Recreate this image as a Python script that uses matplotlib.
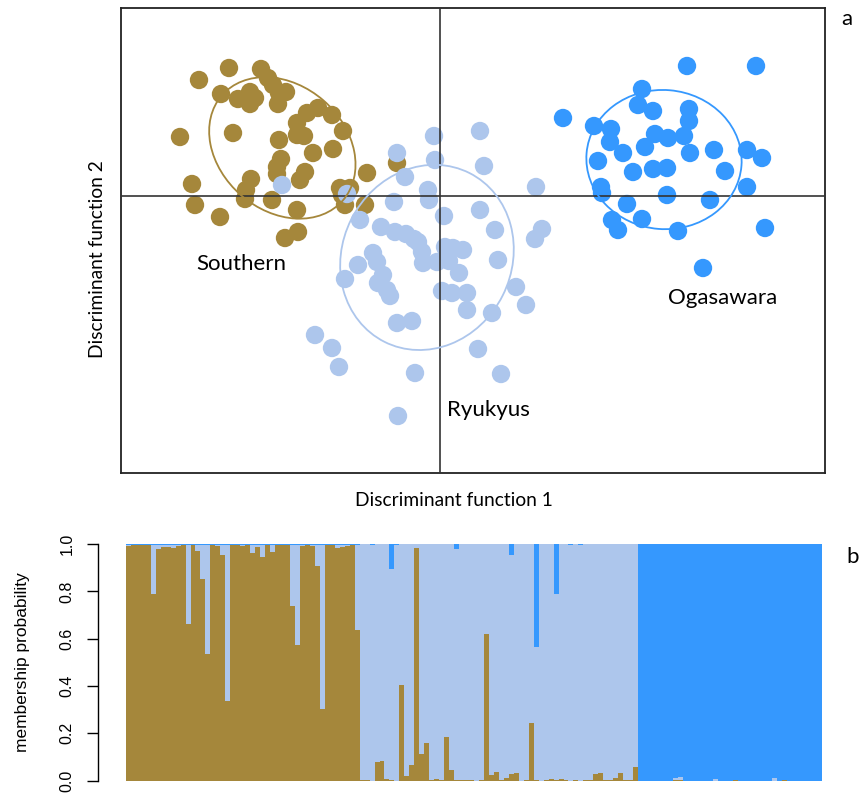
import numpy as np
import matplotlib
matplotlib.use("Agg")
import matplotlib.pyplot as plt
from matplotlib.patches import Ellipse

# ---------------- data: DAPC scores (arbitrary LD units) ----------------
south_ld1 = [-4.82, -4.22, -3.58, -3.44, -3.34, -3.08, -4.38, -4.04, -3.80, -3.80,
             -3.24, -3.22, -5.20, -4.14, -2.86, -2.66, -2.44, -2.16, -1.94, -3.22,
             -2.86, -2.72, -2.54, -2.14, -3.18, -3.26, -3.26, -2.70, -2.80, -3.78,
             -3.88, -3.90, -4.96, -4.90, -4.40, -3.36, -2.86, -1.46, -2.00, -1.80,
             -1.90, -1.50, -0.86, -3.10, -2.84, -1.96, -3.70]
south_ld2 = [2.32, 2.56, 2.54, 2.36, 2.22, 2.08, 2.04, 1.94, 2.08, 1.84,
             1.84, 2.06, 1.18, 1.26, 1.46, 1.66, 1.76, 1.62, 1.30, 1.12,
             1.22, 1.20, 0.86, 0.94, 0.74, 0.58, 0.44, 0.48, 0.32, 0.34,
             0.12, -0.06, 0.24, -0.18, -0.42, -0.08, -0.28, 0.46, 0.16, 0.16,
             -0.18, -0.18, 0.66, -0.84, -0.72, 0.02, 1.96]

ryukyu_ld1 = [-0.12, 0.80, -0.86, -0.10, 0.88, 1.92, -0.70, -0.24, -0.22, -0.92,
              -1.86, 0.08, 0.80, -1.60, -1.18, -0.90, -0.68, -0.44, -0.36, 0.10,
              0.26, 0.46, -0.06, -0.34, 1.10, 2.04, 1.90, 1.16, -1.34, -1.26,
              -1.64, -1.90, 0.38, -1.14, -1.24, -1.00, -1.06, 0.04, 0.24, 0.54,
              0.54, 1.04, 1.52, 1.72, -0.86, -0.56, -2.50, -2.16, -2.02, 0.76,
              -0.50, 1.22, -0.84, -3.16, -0.52, 0.18]
ryukyu_ld2 = [1.20, 1.30, 0.86, 0.72, 0.60, 0.18, 0.38, 0.12, -0.08, -0.12,
              0.04, -0.40, -0.28, -0.48, -0.62, -0.72, -0.76, -0.92, -1.12, -1.02,
              -1.04, -1.08, -1.32, -1.34, -0.68, -0.66, -0.86, -1.28, -1.14, -1.32,
              -1.38, -1.66, -1.54, -1.58, -1.74, -2.00, -1.88, -1.90, -1.94, -1.94,
              -2.28, -2.34, -1.82, -2.18, -2.54, -2.50, -2.78, -3.04, -3.42, -3.06,
              -3.54, -3.56, -4.40, 0.22, -0.86, -1.30]

oga_ld1 = [4.94, 6.32, 4.04, 2.46, 3.08, 3.42, 3.96, 4.26, 4.98, 4.98,
           4.30, 4.56, 4.88, 3.40, 3.66, 4.10, 5.00, 5.48, 6.14, 6.44,
           3.16, 3.86, 4.26, 4.54, 5.70, 3.22, 3.24, 6.14, 4.54, 5.40,
           3.74, 3.44, 3.56, 4.04, 4.76, 6.50, 5.26]
oga_ld2 = [2.60, 2.60, 2.14, 1.56, 1.40, 1.34, 1.82, 1.70, 1.74, 1.50,
           1.24, 1.16, 1.20, 1.08, 0.86, 0.98, 0.86, 0.92, 0.92, 0.76,
           0.70, 0.48, 0.54, 0.56, 0.50, 0.18, 0.06, 0.18, 0.02, -0.08,
           -0.16, -0.48, -0.68, -0.46, -0.70, -0.64, -1.44]

groups = ["Southern", "Ryukyus", "Ogasawara"]

# ---------------- data: membership probabilities ----------------
# Southern individuals: light-blue (Ryukyus) and blue (Ogasawara) shares
south_p_ryu = [0.005, 0, 0, 0, 0, 0.21, 0.02, 0.01, 0.01, 0.015,
               0.005, 0, 0.333, 0, 0.025, 0.147, 0.46, 0, 0.005, 0.045,
               0.662, 0, 0, 0.005, 0, 0.037, 0.01, 0.054, 0, 0.032,
               0, 0, 0, 0.258, 0.423, 0.005, 0, 0.005, 0.092, 0.693,
               0, 0, 0.015, 0.01, 0.005, 0, 0.36]
south_p_oga = [0.003] * 47

# Ryukyus individuals: brown (Southern) and blue (Ogasawara) shares
ryu_p_south = [0.004, 0.004, 0.0, 0.079, 0.083, 0.007, 0.003, 0.0, 0.404, 0.02,
               0.066, 0.983, 0.113, 0.159, 0.003, 0.007, 0.003, 0.185, 0.045, 0.003,
               0.002, 0.002, 0.002, 0.0, 0.003, 0.62, 0.024, 0.037, 0.003, 0.011,
               0.028, 0.032, 0.0, 0.002, 0.244, 0.002, 0.0, 0.003, 0.007, 0.003,
               0.007, 0.002, 0.0, 0.002, 0.0, 0.002, 0.002, 0.028, 0.032, 0.002,
               0.003, 0.011, 0.032, 0.002, 0.002, 0.058]
ryu_p_oga = [0.002, 0.002, 0.006, 0.002, 0.002, 0.002, 0.106, 0.006, 0.002, 0.002,
             0.002, 0.002, 0.002, 0.002, 0.002, 0.002, 0.002, 0.002, 0.002, 0.021,
             0.002, 0.002, 0.002, 0.002, 0.002, 0.002, 0.002, 0.002, 0.002, 0.002,
             0.046, 0.002, 0.002, 0.002, 0.002, 0.435, 0.002, 0.002, 0.002, 0.211,
             0.002, 0.002, 0.006, 0.002, 0.006, 0.002, 0.002, 0.002, 0.002, 0.002,
             0.002, 0.002, 0.002, 0.002, 0.002, 0.002]

# Ogasawara individuals: brown (Southern) and light-blue (Ryukyus) shares
oga_p_south = [0, 0, 0, 0, 0, 0, 0, 0.003, 0.003, 0,
               0, 0, 0, 0, 0, 0, 0, 0, 0, 0.005,
               0, 0, 0, 0, 0, 0, 0, 0, 0, 0.005,
               0, 0, 0, 0, 0, 0, 0]
oga_p_ryu = [0, 0, 0, 0, 0, 0, 0, 0.008, 0.012, 0,
             0, 0, 0, 0, 0, 0.008, 0, 0, 0, 0,
             0, 0, 0, 0, 0, 0, 0, 0.012, 0, 0,
             0, 0, 0, 0, 0, 0, 0]

prob_ticks = [0.0, 0.2, 0.4, 0.6, 0.8, 1.0]

# ---------------- style ----------------
COL = {"Southern": "#A5873B", "Ryukyus": "#ADC6EC", "Ogasawara": "#3598FE"}
W, H = 862, 795
LABEL_FONT = ["Lato", "DejaVu Sans"]
AXIS_FONT = ["Liberation Sans", "DejaVu Sans"]

fig = plt.figure(figsize=(W / 100, H / 100), dpi=100)

def fx(x):
    return x / W

def fy(y):
    return 1 - y / H

# ---------------- panel a: DAPC scatter ----------------
ax1 = fig.add_axes([fx(121), fy(473), (825 - 121) / W, (473 - 8) / H])
ax1.set_xlim(-6.38, 7.70)
ax1.set_ylim(-5.54, 3.76)
ax1.set_xticks([])
ax1.set_yticks([])
for sp in ax1.spines.values():
    sp.set_color("#222222")
    sp.set_linewidth(1.3)

scores = {
    "Southern": (south_ld1, south_ld2),
    "Ryukyus": (ryukyu_ld1, ryukyu_ld2),
    "Ogasawara": (oga_ld1, oga_ld2),
}
for i, g in enumerate(groups):
    xs, ys = scores[g]
    ax1.scatter(xs, ys, s=175, color=COL[g], edgecolors="none", zorder=2 + i)

ax1.axhline(0, color="#333333", lw=1.2, zorder=6)
ax1.axvline(0, color="#333333", lw=1.2, zorder=6)

# inertia ellipses (s.class style, cellipse = 1.5)
for g in groups:
    xs, ys = np.asarray(scores[g][0]), np.asarray(scores[g][1])
    cov = np.cov(np.vstack([xs, ys]), bias=True)
    vals, vecs = np.linalg.eigh(cov)
    order = np.argsort(vals)[::-1]
    vals, vecs = vals[order], vecs[:, order]
    ang = np.degrees(np.arctan2(vecs[1, 0], vecs[0, 0]))
    e = Ellipse((xs.mean(), ys.mean()), 2 * 1.5 * np.sqrt(vals[0]),
                2 * 1.5 * np.sqrt(vals[1]), angle=ang, fill=False,
                edgecolor=COL[g], lw=1.3, zorder=7)
    ax1.add_patch(e)

ax1.text(-3.98, -1.36, "Southern", fontsize=16, family=LABEL_FONT,
         ha="center", va="center", zorder=8)
ax1.text(0.96, -4.28, "Ryukyus", fontsize=16, family=LABEL_FONT,
         ha="center", va="center", zorder=8)
ax1.text(5.66, -2.04, "Ogasawara", fontsize=16, family=LABEL_FONT,
         ha="center", va="center", zorder=8)

fig.text(fx(454), fy(501), "Discriminant function 1", fontsize=13.8,
         family=LABEL_FONT, ha="center", va="center")
fig.text(fx(98), fy(259), "Discriminant function 2", fontsize=13.8,
         family=LABEL_FONT, ha="center", va="center", rotation=90)
fig.text(fx(847), fy(19), "a", fontsize=16, family=LABEL_FONT,
         ha="center", va="center")
fig.text(fx(853), fy(557), "b", fontsize=16, family=LABEL_FONT,
         ha="center", va="center")

# ---------------- panel b: membership probabilities ----------------
p_south = ([1 - a - b for a, b in zip(south_p_ryu, south_p_oga)]
           + ryu_p_south + oga_p_south)
p_ryu = (south_p_ryu
         + [1 - a - b for a, b in zip(ryu_p_south, ryu_p_oga)]
         + oga_p_ryu)
p_oga = (south_p_oga + ryu_p_oga
         + [1 - a - b for a, b in zip(oga_p_south, oga_p_ryu)])
p_south, p_ryu, p_oga = map(np.asarray, (p_south, p_ryu, p_oga))
n = len(p_south)
idx = np.arange(n)

ax2_left, ax2_right = 98, 850
ax2 = fig.add_axes([fx(ax2_left), fy(790.2), (ax2_right - ax2_left) / W,
                    (790.2 - 534.5) / H])
ax2.bar(idx, p_south, width=1.0, align="edge", color=COL["Southern"],
        linewidth=0)
ax2.bar(idx, p_ryu, width=1.0, align="edge", bottom=p_south,
        color=COL["Ryukyus"], linewidth=0)
ax2.bar(idx, p_oga, width=1.0, align="edge", bottom=p_south + p_ryu,
        color=COL["Ogasawara"], linewidth=0)
ax2.set_xlim(-0.04 * n, 1.04 * n)
ax2.set_ylim(-0.04, 1.04)
for s in ("top", "right", "bottom"):
    ax2.spines[s].set_visible(False)
ax2.spines["left"].set_bounds(0, 1)
ax2.spines["left"].set_linewidth(1.0)
ax2.set_xticks([])
ax2.set_yticks(prob_ticks)
ax2.set_yticklabels([f"{t:.1f}" for t in prob_ticks], rotation=90,
                    va="center", family=AXIS_FONT, fontsize=11.5)
ax2.tick_params(axis="y", length=8, width=1.0, pad=9)
ax2.set_ylabel("membership probability", family=AXIS_FONT, fontsize=12.5)
ax2.yaxis.set_label_coords((30 - ax2_left) / (ax2_right - ax2_left), 0.5)
ax2.patch.set_alpha(0)

fig.savefig("out.png", dpi=100)
